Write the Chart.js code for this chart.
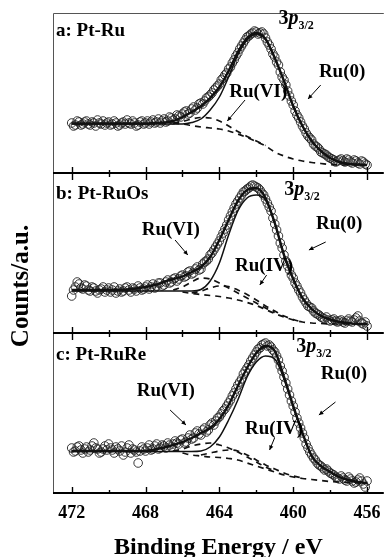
<!DOCTYPE html>
<html><head><meta charset="utf-8">
<script src="https://cdn.jsdelivr.net/npm/chart.js@4.4.1/dist/chart.umd.min.js"></script>
<style>html,body{margin:0;padding:0;background:#fff;}canvas{display:block;}</style>
</head><body>
<canvas id="c" width="389" height="557"></canvas>
<script>
// ---------- DATA ----------
const dataEnergy = [472.0,471.9,471.8,471.7,471.6,471.5,471.4,471.3,471.2,471.1,471.0,470.9,470.8,470.7,470.6,470.5,470.4,470.3,470.2,470.1,470.0,469.9,469.8,469.7,469.6,469.5,469.4,469.3,469.2,469.1,469.0,468.9,468.8,468.7,468.6,468.5,468.4,468.3,468.2,468.1,468.0,467.9,467.8,467.7,467.6,467.5,467.4,467.3,467.2,467.1,467.0,466.9,466.8,466.7,466.6,466.5,466.4,466.3,466.2,466.1,466.0,465.9,465.8,465.7,465.6,465.5,465.4,465.3,465.2,465.1,465.0,464.9,464.8,464.7,464.6,464.5,464.4,464.3,464.2,464.1,464.0,463.9,463.8,463.7,463.6,463.5,463.4,463.3,463.2,463.1,463.0,462.9,462.8,462.7,462.6,462.5,462.4,462.3,462.2,462.1,462.0,461.9,461.8,461.7,461.6,461.5,461.4,461.3,461.2,461.1,461.0,460.9,460.8,460.7,460.6,460.5,460.4,460.3,460.2,460.1,460.0,459.9,459.8,459.7,459.6,459.5,459.4,459.3,459.2,459.1,459.0,458.9,458.8,458.7,458.6,458.5,458.4,458.3,458.2,458.1,458.0,457.9,457.8,457.7,457.6,457.5,457.4,457.3,457.2,457.1,457.0,456.9,456.8,456.7,456.6,456.5,456.4,456.3,456.2,456.1,456.0];
const fitEnergy = [472,471.5,471,470.5,470,469.5,469,468.5,468,467.5,467,466.5,466,465.5,465,464.5,464,463.5,463,462.5,462,461.5,461,460.5,460,459.5,459,458.5,458,457.5,457,456.5,456];
const majorTicks = [472,468,464,460,456];
const minorTicks = [470,466,462,458];

// panel a: Pt-Ru
const countsA = [50,47,48,52,51,48,49,51,52,49,48,51,50,47,53,50,49,52,48,50,51,48,49,52,50,47,48,50,51,49,53,50,49,52,50,47,48,51,52,49,50,52,49,51,53,50,51,54,50,52,54,51,52,56,55,53,54,58,57,56,59,61,62,59,60,64,66,63,65,69,70,69,72,75,76,78,80,83,85,87,89,93,95,98,100,104,106,110,113,117,120,124,127,130,133,136,137,139,140,142,141,139,140,141,139,135,131,128,124,119,116,111,108,101,96,93,88,82,77,72,68,62,58,55,51,47,44,40,37,35,33,29,27,26,24,21,20,19,18,16,15,14,13,11,12,13,14,12,11,14,13,11,10,13,12,10,9,12,11,9,8];
const fitA = [49.5,49.5,49.5,49.5,49.5,49.5,49.5,49.5,49.5,50,50.5,52,56,61,67,75,86,102,121,135,140,134,115,92,67,47,32,22,15,11,9,8.5,8];
const ru0A = [49,49,49,49,49,49,49,49,49,49,49,49,49,50.5,54,63,76,96,118,133,139,134,115,92,67,47,32,22,15,11,9,8.5,8];
const ru6A = [null,null,null,null,null,null,null,null,null,null,null,50,51.5,54,55.5,55,52,47,41.5,36.5,32,27.5,null,null,null,null,null,null,null,null,null,null,null];
const bgA = [null,null,null,null,null,null,null,null,null,null,null,50,49,47.5,46,45,44,42,39,35.5,31.5,27,21,17,14,12,10.5,9.5,8.5,8,8,8,8];

// panel b: Pt-RuOs
const countsB = [37,43,46,51,49,45,44,48,47,43,42,46,45,42,40,43,44,46,41,43,45,41,43,46,40,42,44,41,42,45,46,43,41,45,44,42,47,45,43,44,46,48,44,46,49,45,47,50,50,47,48,51,53,50,51,54,55,52,54,57,58,56,57,61,62,59,60,64,66,63,64,69,71,72,74,78,80,83,86,89,92,96,100,104,108,113,117,121,125,129,132,135,138,141,142,144,145,147,148,147,146,145,143,140,138,134,130,126,122,115,109,103,97,90,85,78,72,67,63,58,55,50,47,43,40,36,33,30,27,26,25,22,20,19,18,16,15,14,16,13,12,13,14,12,11,12,13,11,10,12,14,12,11,13,15,17,12,10,9,11,7];
const fitB = [43,43,43,43,43,43,43.5,44.5,46,48,51,54,56.5,61,66,76,93,113,132,143,145,135,110,78,54,35,24,17,13.5,11,10,9,9];
const ru0B = [42,42,42,42,42,42,42,42,42,42,42,42,42,42,43.5,52,70,98,122,135,138,133,110,78,54,35,24,17,13.5,11,10,9,9];
const ru6B = [null,null,null,null,null,null,null,null,null,null,null,43,46,51,55,54,50,45,40,35,30,25,20.5,null,null,null,null,null,null,null,null,null,null];
const ru4B = [null,null,null,null,null,null,null,null,null,null,null,null,null,40,42,45,47,46.5,43,38.5,33,27,22,17,13.5,11,null,null,null,null,null,null,null];
const bgB = [null,null,null,null,null,null,null,null,null,null,null,null,41,39.5,38.5,37.5,36.5,35,33,30.5,27.5,23.5,19.5,16,13,11,10,9.5,9,9,9,9,9];

// panel c: Pt-RuRe
const countsC = [45,41,42,46,47,43,40,44,46,41,43,47,50,45,44,40,41,44,47,43,49,45,43,40,46,44,42,47,38,41,45,48,40,44,43,41,30,42,46,44,42,45,48,43,44,47,49,44,45,48,47,45,50,48,46,49,52,50,49,53,54,50,51,55,58,54,55,60,62,59,58,63,65,61,63,68,70,68,72,75,76,79,82,84,87,90,93,97,100,104,108,111,114,119,122,125,128,132,135,138,141,144,145,148,149,150,147,148,146,143,141,137,133,127,122,116,110,104,98,92,87,81,75,70,65,60,55,49,45,41,38,35,33,30,28,27,25,23,24,22,20,19,18,16,15,14,17,15,13,12,16,14,12,10,11,13,15,12,9,6,12];
const fitC = [42,42,42,42,42,42,42,42,42,43.5,45.5,48,51,55,60,65,74,88,107,125,140,147,142,116,87,60,37,27,21,16,13,11,10];
const ru0C = [41.5,41.5,41.5,41.5,41.5,41.5,41.5,41.5,41.5,41.5,41.5,41.5,41.5,41.5,42,46,56,73,93,116,131,137,134,114,86,60,37,27,21,16,13,11,10];
const ru6C = [null,null,null,null,null,null,null,null,null,null,null,42,44,47,49,50,48,45,41,36,31,26,22,null,null,null,null,null,null,null,null,null,null];
const ru4C = [null,null,null,null,null,null,null,null,null,null,null,null,null,null,38,40,42,43,42,38,33,28,24,20,17,15,null,null,null,null,null,null,null];
const bgC = [null,null,null,null,null,null,null,null,null,null,null,null,40,38,37,36,35.5,34.5,33,30,27,24,21,18,16,14.5,13.5,12.5,11.5,11,10.5,10,10];

// annotations, in data coordinates (eV, a.u. of each panel)
const panelLabels = [
  {axis:'ya', text:'a: Pt-Ru', x:472.85, y:137},
  {axis:'yb', text:'b: Pt-RuOs', x:472.85, y:134},
  {axis:'yc', text:'c: Pt-RuRe', x:472.85, y:133}
];
const orbitalLabels = [
  {axis:'ya', x:460.8, y:149},
  {axis:'yb', x:460.48, y:138},
  {axis:'yc', x:459.84, y:141}
];
const stateLabels = [
  {axis:'ya', text:'Ru(0)', x:458.61, y:96},
  {axis:'ya', text:'Ru(VI)', x:463.47, y:76},
  {axis:'yb', text:'Ru(VI)', x:468.21, y:98},
  {axis:'yb', text:'Ru(IV)', x:463.15, y:62},
  {axis:'yb', text:'Ru(0)', x:458.77, y:104},
  {axis:'yc', text:'Ru(VI)', x:468.48, y:97},
  {axis:'yc', text:'Ru(IV)', x:462.61, y:59},
  {axis:'yc', text:'Ru(0)', x:458.51, y:114}
];
const arrows = [
  {axis:'ya', x1:458.51, y1:88, x2:459.2, y2:74},
  {axis:'ya', x1:462.61, y1:73, x2:463.57, y2:52},
  {axis:'yb', x1:466.4, y1:93, x2:465.71, y2:78},
  {axis:'yb', x1:461.44, y1:58, x2:461.81, y2:48},
  {axis:'yb', x1:458.24, y1:91, x2:459.15, y2:83},
  {axis:'yc', x1:466.67, y1:83, x2:465.81, y2:68},
  {axis:'yc', x1:461.01, y1:55, x2:461.28, y2:43},
  {axis:'yc', x1:457.71, y1:91, x2:458.61, y2:78}
];

// ---------- BUILD ----------
const panels = [
  {axis:'ya', counts:countsA, fit:fitA, ru0:ru0A, comps:[ru6A], bg:bgA},
  {axis:'yb', counts:countsB, fit:fitB, ru0:ru0B, comps:[ru6B, ru4B], bg:bgB},
  {axis:'yc', counts:countsC, fit:fitC, ru0:ru0C, comps:[ru6C, ru4C], bg:bgC}
];
const INK = '#111';
const pts = (xs, ys) => xs.map((x,i)=>({x:x, y:ys[i]}));
const datasets = [];
panels.forEach(p => {
  datasets.push({data:pts(fitEnergy,p.fit), yAxisID:p.axis, borderColor:INK, borderWidth:2.4, pointRadius:0, cubicInterpolationMode:'monotone', fill:false});
  datasets.push({data:pts(fitEnergy,p.ru0), yAxisID:p.axis, borderColor:INK, borderWidth:1.5, pointRadius:0, cubicInterpolationMode:'monotone', fill:false});
  p.comps.forEach(c => datasets.push({data:pts(fitEnergy,c), yAxisID:p.axis, borderColor:INK, borderWidth:1.7, borderDash:[6,5], pointRadius:0, cubicInterpolationMode:'monotone', fill:false, spanGaps:false}));
  datasets.push({data:pts(fitEnergy,p.bg), yAxisID:p.axis, borderColor:INK, borderWidth:1.7, borderDash:[6,5], pointRadius:0, cubicInterpolationMode:'monotone', fill:false, spanGaps:false});
  datasets.push({data:pts(dataEnergy,p.counts), yAxisID:p.axis, showLine:false, pointRadius:4.3, pointStyle:'circle', pointBorderColor:'#222', pointBackgroundColor:'rgba(255,255,255,0)', pointBorderWidth:0.9});
});

const SERIF = '"Liberation Serif", "Times New Roman", serif';

function arrowHead(ctx, x1, y1, x2, y2) {
  const a = Math.atan2(y2-y1, x2-x1), L = 5;
  ctx.beginPath();
  ctx.moveTo(x2, y2);
  ctx.lineTo(x2 - L*Math.cos(a-0.45), y2 - L*Math.sin(a-0.45));
  ctx.lineTo(x2 - L*Math.cos(a+0.45), y2 - L*Math.sin(a+0.45));
  ctx.closePath();
  ctx.fill();
}

const decor = {
  id:'decor',
  afterDraw(chart) {
    const ctx = chart.ctx, ca = chart.chartArea, sx = chart.scales.x;
    ctx.save();
    ctx.strokeStyle = '#555'; ctx.lineWidth = 1;
    ctx.beginPath();
    ctx.moveTo(ca.left+0.5, ca.bottom); ctx.lineTo(ca.left+0.5, ca.top+0.5); ctx.lineTo(ca.right, ca.top+0.5);
    ctx.stroke();
    ['ya','yb','yc'].forEach((id, k) => {
      const s = chart.scales[id];
      const y = s.bottom;
      const last = (k === 2);
      ctx.strokeStyle = '#000'; ctx.lineWidth = 2;
      ctx.beginPath(); ctx.moveTo(ca.left, y); ctx.lineTo(ca.right, y); ctx.stroke();
      ctx.lineWidth = 1.4;
      majorTicks.forEach(v => { const x = Math.round(sx.getPixelForValue(v))+0.5; ctx.beginPath(); ctx.moveTo(x, y-6); ctx.lineTo(x, last ? y : y+7); ctx.stroke(); });
      minorTicks.forEach(v => { const x = Math.round(sx.getPixelForValue(v))+0.5; ctx.beginPath(); ctx.moveTo(x, y-3); ctx.lineTo(x, last ? y : y+4); ctx.stroke(); });
      if (last) {
        ctx.fillStyle = '#000'; ctx.font = 'bold 18px ' + SERIF; ctx.textAlign = 'center'; ctx.textBaseline = 'middle';
        majorTicks.forEach(v => ctx.fillText(String(v), sx.getPixelForValue(v), y + 20));
      }
    });
    ctx.fillStyle = '#000';
    ctx.font = 'bold 24px ' + SERIF; ctx.textAlign = 'center'; ctx.textBaseline = 'middle';
    ctx.fillText('Binding Energy / eV', (ca.left+ca.right)/2, 548);
    ctx.save(); ctx.translate(22, 286); ctx.rotate(-Math.PI/2); ctx.font = 'bold 25px ' + SERIF;
    ctx.fillText('Counts/a.u.', 0, 0); ctx.restore();
    ctx.textAlign = 'left'; ctx.textBaseline = 'alphabetic';
    ctx.font = 'bold 19px ' + SERIF;
    panelLabels.forEach(l => ctx.fillText(l.text, sx.getPixelForValue(l.x), chart.scales[l.axis].getPixelForValue(l.y)));
    orbitalLabels.forEach(l => {
      const x = sx.getPixelForValue(l.x), y = chart.scales[l.axis].getPixelForValue(l.y);
      ctx.font = 'bold 20px ' + SERIF; ctx.fillText('3', x, y);
      let w = ctx.measureText('3').width;
      ctx.font = 'italic bold 20px ' + SERIF; ctx.fillText('p', x + w, y);
      w += ctx.measureText('p').width;
      ctx.font = 'bold 12px ' + SERIF; ctx.fillText('3/2', x + w, y + 5);
    });
    ctx.font = 'bold 19px ' + SERIF;
    stateLabels.forEach(l => ctx.fillText(l.text, sx.getPixelForValue(l.x), chart.scales[l.axis].getPixelForValue(l.y)));
    ctx.strokeStyle = '#000'; ctx.lineWidth = 1;
    arrows.forEach(a => {
      const s = chart.scales[a.axis];
      const x1 = sx.getPixelForValue(a.x1), y1 = s.getPixelForValue(a.y1), x2 = sx.getPixelForValue(a.x2), y2 = s.getPixelForValue(a.y2);
      ctx.beginPath(); ctx.moveTo(x1, y1); ctx.lineTo(x2, y2); ctx.stroke();
      arrowHead(ctx, x1, y1, x2, y2);
    });
    ctx.restore();
  }
};

new Chart(document.getElementById('c'), {
  type:'line',
  data:{datasets:datasets},
  options:{
    responsive:false, animation:false, devicePixelRatio:1, events:[],
    layout:{padding:{left:53, top:13, right:0, bottom:64}},
    plugins:{legend:{display:false}, tooltip:{enabled:false}},
    scales:{
      x:{type:'linear', display:false, min:455.093, max:473.013, reverse:true},
      yc:{type:'linear', display:false, position:'left', min:0, max:160, stack:'panels', stackWeight:1, weight:1},
      yb:{type:'linear', display:false, position:'left', min:0, max:160, stack:'panels', stackWeight:1, weight:2},
      ya:{type:'linear', display:false, position:'left', min:0, max:160, stack:'panels', stackWeight:1, weight:3}
    }
  },
  plugins:[decor]
});
</script>
</body></html>
